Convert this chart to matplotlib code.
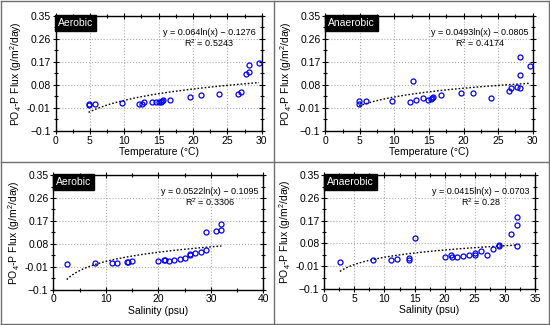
import matplotlib.pyplot as plt
from matplotlib.lines import Line2D
import numpy as np

plt.rcParams['font.family'] = ['Liberation Sans', 'DejaVu Sans']
plt.rcParams['mathtext.fontset'] = 'custom'
plt.rcParams['mathtext.rm'] = 'Liberation Sans'
plt.rcParams['mathtext.it'] = 'Liberation Sans:italic'

# Aerobic vs temperature
temp_aer_x = [4.8, 4.8, 5.8, 9.6, 12.1, 12.6, 12.9, 14.0, 14.6, 15.1, 15.3, 15.5,
              15.65, 16.7, 19.5, 21.2, 23.8, 26.5, 27.0, 27.7, 28.1, 28.1, 29.6]
temp_aer_y = [0.004, 0.0, 0.006, 0.009, 0.006, 0.007, 0.012, 0.013, 0.013, 0.013, 0.014, 0.018,
              0.020, 0.022, 0.032, 0.041, 0.044, 0.045, 0.053, 0.124, 0.131, 0.159, 0.164]

# Anaerobic vs temperature
temp_ana_x = [4.9, 4.9, 5.9, 9.7, 12.2, 12.7, 13.1, 14.1, 14.8, 15.25, 15.4, 15.6,
              16.7, 19.6, 21.3, 23.9, 26.6, 26.9, 27.7, 28.2, 28.2, 28.2, 29.6]
temp_ana_y = [0.016, 0.004, 0.018, 0.018, 0.012, 0.097, 0.021, 0.029, 0.022, 0.025, 0.030, 0.034,
              0.041, 0.047, 0.047, 0.030, 0.057, 0.068, 0.072, 0.118, 0.189, 0.067, 0.153]

# Aerobic vs salinity
sal_aer_x = [2.55, 8.0, 11.1, 12.1, 14.0, 14.2, 15.0, 20.0, 21.0, 21.3, 22.1, 23.0,
             24.1, 25.1, 26.0, 26.1, 27.0, 28.1, 29.0, 29.0, 31.0, 32.0, 32.0]
sal_aer_y = [0.0, 0.004, 0.003, 0.006, 0.007, 0.008, 0.012, 0.012, 0.015, 0.015, 0.014, 0.015,
             0.019, 0.024, 0.035, 0.041, 0.044, 0.046, 0.055, 0.126, 0.130, 0.134, 0.158]

# Anaerobic vs salinity
sal_ana_x = [2.6, 8.1, 11.1, 12.1, 14.0, 14.1, 15.1, 20.1, 21.0, 21.3, 22.1, 23.1,
             24.1, 25.1, 25.1, 26.0, 27.1, 28.1, 29.1, 29.1, 31.1, 32.1, 32.1, 32.1]
sal_ana_y = [0.006, 0.016, 0.016, 0.020, 0.022, 0.013, 0.100, 0.025, 0.033, 0.025, 0.028, 0.032,
             0.033, 0.036, 0.044, 0.049, 0.034, 0.059, 0.072, 0.068, 0.116, 0.152, 0.186, 0.068]

# log fits: (a, b, r2)
fits = [(0.064, -0.1276, '0.5243'), (0.0493, -0.0805, '0.4174'),
        (0.0522, -0.1095, '0.3306'), (0.0415, -0.0703, '0.28')]
labels = ['Aerobic', 'Anaerobic', 'Aerobic', 'Anaerobic']
xlabels = ['Temperature (°C)', 'Temperature (°C)', 'Salinity (psu)', 'Salinity (psu)']
xmaxes = [30, 30, 40, 35]
yticks = [-0.1, -0.01, 0.08, 0.17, 0.26, 0.35]
ytick_labels = ['\u22120.1', '-0.01', '0.08', '0.17', '0.26', '0.35']

data = [(temp_aer_x, temp_aer_y), (temp_ana_x, temp_ana_y),
        (sal_aer_x, sal_aer_y), (sal_ana_x, sal_ana_y)]

positions = [[0.101, 0.597, 0.375, 0.354],
             [0.5915, 0.597, 0.377, 0.354],
             [0.097, 0.109, 0.382, 0.352],
             [0.5896, 0.111, 0.383, 0.350]]

fig = plt.figure(figsize=(5.5, 3.25), dpi=100)

for i in range(4):
    ax = fig.add_axes(positions[i])
    x, y = data[i]
    a, b, r2 = fits[i]
    ax.plot(x, y, 'o', mfc='none', mec='#0000ff', ms=3.6, mew=0.9, zorder=3)
    xf = np.linspace(min(x), max(x), 100)
    ax.plot(xf, a * np.log(xf) + b, color='black', ls=(0, (1.2, 1.4)), lw=1.0, zorder=2)

    ax.set_xlim(0, xmaxes[i])
    ax.set_ylim(-0.1, 0.35)
    ax.set_yticks(yticks)
    ax.set_yticklabels(ytick_labels)
    ax.set_yticks([t + 0.045 for t in yticks[:-1]], minor=True)
    step = 5 if xmaxes[i] != 40 else 10
    ax.set_xticks(np.arange(0, xmaxes[i] + 0.1, step))
    ax.set_xticks(np.arange(step / 2, xmaxes[i], step), minor=True)
    ax.grid(True, which='major', ls=':', color='#aaaaaa', lw=0.8)
    ax.tick_params(which='both', direction='inout', top=True, right=True,
                   labelsize=7.5, width=0.8, pad=1.5)
    ax.tick_params(which='major', length=4)
    ax.tick_params(which='minor', length=2.5)
    for s in ax.spines.values():
        s.set_linewidth(1.0)

    ax.set_xlabel(xlabels[i], fontsize=7.5, labelpad=1)
    ax.set_ylabel('PO$_4$-P Flux (g/m$^2$/day)', fontsize=7.5, labelpad=2)

    ax.text(0.012, 0.985, labels[i], transform=ax.transAxes, ha='left', va='top',
            fontsize=7.5, color='white', zorder=5,
            bbox=dict(boxstyle='square,pad=0.3', fc='black', ec='black'))

    sign = '\u2212' if b < 0 else '+'
    ax.text(0.745, 0.86, f'y = {a}ln(x) {sign} {abs(b)}', transform=ax.transAxes,
            ha='center', va='center', fontsize=6.5)
    ax.text(0.745, 0.765, f'R$^2$ = {r2}', transform=ax.transAxes,
            ha='center', va='center', fontsize=6.5)

# panel frames
gray = '#707070'
for coords in [([0.002, 0.998], [0.997, 0.997]), ([0.002, 0.998], [0.003, 0.003]),
               ([0.002, 0.002], [0.003, 0.997]), ([0.998, 0.998], [0.003, 0.997]),
               ([0.498, 0.498], [0.003, 0.997]), ([0.002, 0.998], [0.501, 0.501])]:
    fig.add_artist(Line2D(coords[0], coords[1], color=gray, lw=1.0, transform=fig.transFigure))

fig.savefig('out.png', dpi=100)
